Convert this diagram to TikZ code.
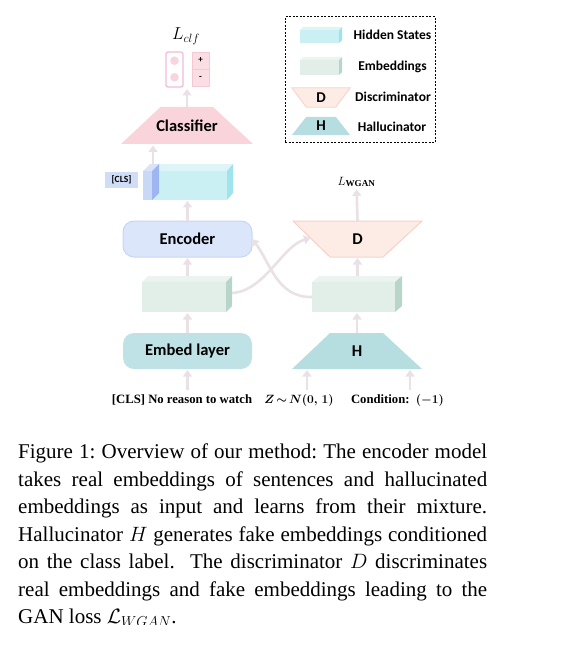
\documentclass[tikz,border=0pt]{standalone}
\usepackage{fontspec}
\setmainfont{Liberation Serif}
\newfontfamily\carl{Carlito}
\usepackage{amsmath,bm}
\usetikzlibrary{calc,arrows.meta}
\pgfdeclarelayer{bg}
\pgfsetlayers{bg,main}
\definecolor{arrowc}{HTML}{E9E1E6}
\definecolor{hidfront}{HTML}{CBF0F4}
\definecolor{hidtop}{HTML}{DDF5F8}
\definecolor{hidside}{HTML}{9FE3EC}
\definecolor{clsfront}{HTML}{C8D8F6}
\definecolor{clstop}{HTML}{D9E4F8}
\definecolor{clsside}{HTML}{9DB5F0}
\definecolor{embfront}{HTML}{E2EEE8}
\definecolor{embtop}{HTML}{EBF4EF}
\definecolor{embside}{HTML}{B8D5CA}
\definecolor{clfc}{HTML}{FAD4DB}
\definecolor{encfill}{HTML}{DCE6FA}
\definecolor{encdraw}{HTML}{C6D6F6}
\definecolor{Dfill}{HTML}{FDECE6}
\definecolor{Ddraw}{HTML}{F9D0C6}
\definecolor{Hfill}{HTML}{B6DDE0}
\definecolor{emblfill}{HTML}{BEE2E5}
\definecolor{outdraw}{HTML}{F2BAD8}
\definecolor{dotc}{HTML}{F9D3DE}
\definecolor{pmfill}{HTML}{FBDDE4}
\definecolor{pmdraw}{HTML}{F5C9D4}
\definecolor{clsbox}{HTML}{CFDDF7}
\newcommand{\cuboid}[5]{%
  \fill[#4] (#1.north west) -- ++(#2,-#3) -- ($(#1.north east)+(#2,-#3)$) -- (#1.north east) -- cycle;
  \fill[#5] (#1.north east) -- ++(#2,-#3) -- ($(#1.south east)+(#2,-#3)$) -- (#1.south east) -- cycle;}
\frenchspacing
\begin{document}
\begin{tikzpicture}[x=1pt,y=-1pt,
  lbl/.style={font=\carl\bfseries\fontsize{16.5}{19}\selectfont, inner sep=0pt, outer sep=0pt},
  leglbl/.style={font=\carl\bfseries\fontsize{13.5}{16}\selectfont, inner sep=0pt},
  face/.style={inner sep=0pt, outer sep=0pt},
  arr/.style={draw=arrowc, line width=2.6pt, -{Triangle[width=9pt,length=6.5pt]}},
  btxt/.style={font=\bfseries\fontsize{12.7}{15}\selectfont, inner sep=0pt},
  capline/.style={font=\fontsize{21}{27.5}\selectfont, anchor=base west, inner sep=0pt},
]
\useasboundingbox (0,0) rectangle (567,652);

% ---------- left column ----------
\node[lbl, minimum width=132pt, minimum height=37pt] (clf) at (187,125.5) {Classifier};
\begin{pgfonlayer}{bg}
\fill[clfc] (clf.south west) -- (clf.south east) -- ($(clf.north east)+(-40,0)$) -- ($(clf.north west)+(39.5,0)$) -- cycle;
\end{pgfonlayer}

\node[face, draw=outdraw, line width=1.2pt, rounded corners=2pt, minimum width=17pt, minimum height=35pt] (o1) at (174.5,69.5) {};
\node[circle, fill=dotc, minimum size=8.6pt, inner sep=0pt] (d1) at (174.5,60.7) {};
\node[circle, fill=dotc, minimum size=8.6pt, inner sep=0pt] (d2) at (174.5,77.3) {};
\node[face, fill=pmfill, draw=pmdraw, line width=0.6pt, minimum width=17pt, minimum height=17pt, font=\carl\bfseries\fontsize{9}{10}\selectfont] (op) at (200.5,60.5) {+};
\node[face, fill=pmfill, draw=pmdraw, line width=0.6pt, minimum width=17pt, minimum height=17pt, font=\carl\bfseries\fontsize{9}{10}\selectfont] (om) at (200.5,77.5) {-};
\node[font=\fontsize{17}{20}\selectfont, inner sep=0pt] (Lc) at (186,36) {$L_{clf}$};

\node[face, fill=hidfront, minimum width=75pt, minimum height=29pt] (hid) at (189.5,185.5) {};
\cuboid{hid}{6}{7}{hidtop}{hidside}
\node[face, fill=clsfront, minimum width=9pt, minimum height=29pt] (cls) at (147.5,185.5) {};
\cuboid{cls}{7}{7}{clstop}{clsside}
\node[face, fill=clsbox, minimum width=33pt, minimum height=16pt, font=\carl\bfseries\fontsize{9.5}{11}\selectfont] (clsl) at (121.5,180) {[CLS]};

\node[lbl, draw=encdraw, fill=encfill, line width=1pt, rounded corners=11pt, minimum width=129pt, minimum height=36pt] (enc) at (187.5,239) {Encoder};

\node[face, fill=embfront, minimum width=84pt, minimum height=30pt] (embL) at (184,297) {};
\cuboid{embL}{6}{6}{embtop}{embside}

\node[lbl, fill=emblfill, rounded corners=11pt, minimum width=129pt, minimum height=36pt] (emb) at (187.5,351) {Embed layer};

% ---------- right column ----------
\node[font=\fontsize{13}{15}\selectfont, inner sep=0pt] (Lw) at (356.5,182) {$L_{\mathbf{WGAN}}$};
\node[lbl, minimum width=129pt, minimum height=36pt] (D) at (357.5,239) {D};
\begin{pgfonlayer}{bg}
\path[fill=Dfill, draw=Ddraw, line width=1pt] (D.north west) -- (D.north east) -- ($(D.south east)+(-39,0)$) -- ($(D.south west)+(37,0)$) -- cycle;
\end{pgfonlayer}

\node[face, fill=embfront, minimum width=83pt, minimum height=30pt] (embR) at (353.5,297) {};
\cuboid{embR}{7}{6}{embtop}{embside}

\node[lbl, minimum width=130pt, minimum height=36pt] (H) at (357,351) {H};
\begin{pgfonlayer}{bg}
\fill[Hfill] (H.south west) -- (H.south east) -- ($(H.north east)+(-39,0)$) -- ($(H.north west)+(38,0)$) -- cycle;
\end{pgfonlayer}

% ---------- inputs ----------
\node[btxt] (t1) at (182,400) {{[}CLS{]} No reason to watch};
\node[btxt] (t2) at (299,400) {$\boldsymbol{Z\,{\sim}\,N(0,\,1)}$};
\node[btxt] (t3) at (397.5,400) {Condition:\ \ $\boldsymbol{(-1)}$};
\coordinate (zin) at (307,390);
\coordinate (cin) at (410,390);

% ---------- connectors ----------
\coordinate (clsTop) at ($(cls.north)+(5.5,-7)$);
\coordinate (embLtop) at ($(embL.north)+(0,-6)$);
\coordinate (embRtop) at ($(embR.north)+(0,-6)$);
\coordinate (embLout) at ($(embL.east)+(6,-4)$);
\coordinate (Din) at ($(D.center)+(-47,-1)$);
\draw[arr, shorten >=2pt] (clf.north) -- (clf.north |- o1.south);
\draw[arr, shorten >=1.5pt] (clsTop) -- (clsTop |- clf.south);
\draw[arr, shorten >=1pt] (enc.north) -- (enc.north |- hid.south);
\draw[arr, shorten >=1pt] (enc.south |- embLtop) -- (enc.south);
\draw[arr, shorten >=1pt] (emb.north) -- (emb.north |- embL.south);
\draw[arr, shorten >=1pt] (emb.south |- zin) -- (emb.south);
\draw[arr, shorten >=2pt] (D.north) -- (Lw.south);
\draw[arr, shorten >=1pt] (D.south |- embRtop) -- (D.south);
\draw[arr, shorten >=1pt] (H.north) -- (H.north |- embR.south);
\draw[arr, shorten >=1pt] (zin) -- (zin |- H.south);
\draw[arr, shorten >=1pt] (cin) -- (cin |- H.south);
\draw[arr] (embLout) .. controls (265,291) and (282,246) .. (Din);
\draw[arr] (embR.west) .. controls (277,298) and (270,262) .. (enc.east);

% ---------- legend ----------
\node[draw, line width=1pt, dash pattern=on 2pt off 1.5pt, minimum width=150pt, minimum height=126pt, inner sep=0pt] (leg) at (360,80) {};
\node[face, fill=hidfront, minimum width=39pt, minimum height=13pt] (lh) at (319.5,36.5) {};
\cuboid{lh}{3}{3}{hidtop}{hidside}
\node[face, fill=embfront, minimum width=39pt, minimum height=15pt] (le) at (319.5,67.5) {};
\cuboid{le}{3}{3}{embtop}{embside}
\node[font=\carl\bfseries\fontsize{15}{17}\selectfont, inner sep=0pt, minimum width=58pt, minimum height=19pt] (ld) at (321,97.5) {D};
\node[font=\carl\bfseries\fontsize{15}{17}\selectfont, inner sep=0pt, minimum width=58pt, minimum height=18pt] (lhl) at (321,126) {H};
\begin{pgfonlayer}{bg}
\path[fill=Dfill, draw=Ddraw, line width=0.8pt] (ld.north west) -- (ld.north east) -- ($(ld.south east)+(-14.5,0)$) -- ($(ld.south west)+(14.5,0)$) -- cycle;
\fill[Hfill] (lhl.south west) -- (lhl.south east) -- ($(lhl.north east)+(-14.5,0)$) -- ($(lhl.north west)+(14.5,0)$) -- cycle;
\end{pgfonlayer}
\node[leglbl] (lt1) at (392.5,35) {Hidden States};
\node[leglbl] (lt2) at (392.5,67) {Embeddings};
\node[leglbl] (lt3) at (393,97) {Discriminator};
\node[leglbl] (lt4) at (392,127) {Hallucinator};

% ---------- caption ----------
\begin{scope}
\clip (0,0) rectangle (567,624.5);
\node[capline] (c1) at (18,458.5) {\makebox[469pt][s]{Figure 1: Overview of our method: The encoder model}};
\node[capline] (c2) at (18,486) {\makebox[469pt][s]{takes real embeddings of sentences and hallucinated}};
\node[capline] (c3) at (18,513.5) {\makebox[469pt][s]{embeddings as input and learns from their mixture.}};
\node[capline] (c4) at (18,541) {\makebox[469pt][s]{Hallucinator $H$ generates fake embeddings conditioned}};
\node[capline] (c5) at (18,568.5) {\makebox[469pt][s]{on the class label.\ \ The discriminator $D$ discriminates}};
\node[capline] (c6) at (18,596) {\makebox[469pt][s]{real embeddings and fake embeddings leading to the}};
\node[capline] (c7) at (18,623.5) {GAN loss $\mathcal{L}_{WGAN}$.};
\end{scope}
\end{tikzpicture}
\end{document}
